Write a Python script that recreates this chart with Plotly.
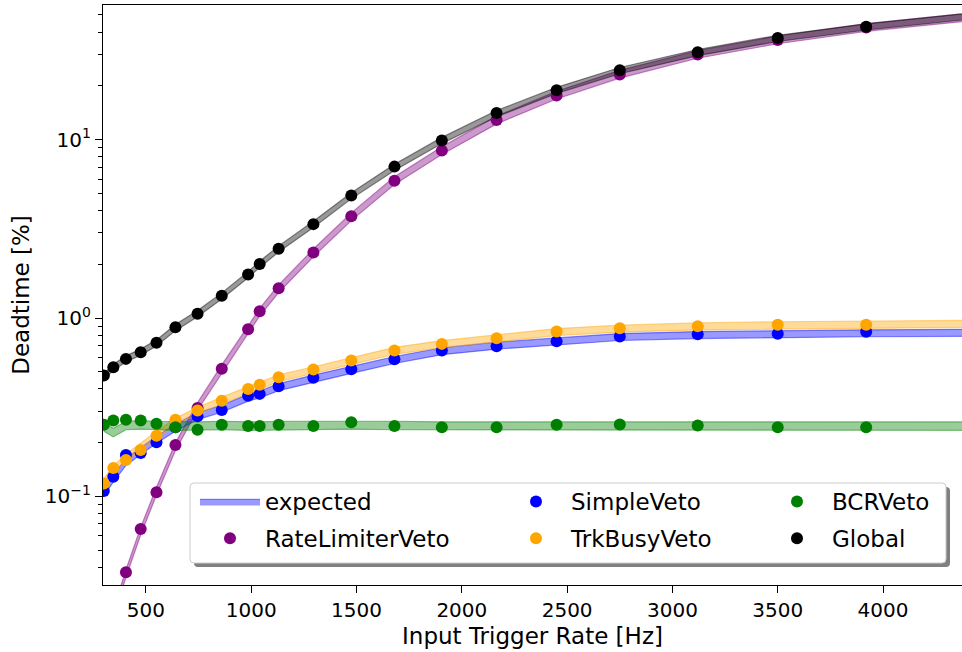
import plotly.graph_objects as go

# ---------------- data ----------------
rate_hz = [300, 345, 405, 475, 550, 640, 745, 860, 985, 1040, 1130, 1295,
           1475, 1680, 1905, 2165, 2450, 2750, 3120, 3500, 3920]

rate_limiter = [0.012, 0.021, 0.0375, 0.0656, 0.1053, 0.194, 0.313, 0.519, 0.865,
                1.09, 1.47, 2.33, 3.72, 5.89, 8.68, 12.9, 17.7, 23.2, 30.0, 36.2, 42.5]
simple_veto = [0.107, 0.129, 0.1707, 0.175, 0.201, 0.244, 0.281, 0.305, 0.366,
               0.3755, 0.414, 0.462, 0.516, 0.587, 0.657, 0.695, 0.741, 0.787,
               0.811, 0.815, 0.837]
trkbusy_veto = [0.118, 0.144, 0.16, 0.182, 0.219, 0.2685, 0.303, 0.344, 0.40,
                0.422, 0.466, 0.514, 0.577, 0.657, 0.716, 0.77, 0.84, 0.877,
                0.90, 0.916, 0.916]
bcr_veto = [0.252, 0.266, 0.2685, 0.266, 0.255, 0.244, 0.2366, 0.252, 0.248,
            0.248, 0.252, 0.248, 0.26, 0.248, 0.244, 0.244, 0.252, 0.253,
            0.250, 0.244, 0.244]
global_dt = [0.476, 0.53, 0.59, 0.643, 0.726, 0.888, 1.056, 1.332, 1.754, 2.01,
             2.445, 3.36, 4.87, 7.06, 9.9, 14.1, 18.9, 24.5, 30.9, 37.2, 43.0]

# expected (model) curves
exp_hz = rate_hz + [4500]
exp_rate_limiter = [0.013, 0.022, 0.037, 0.064, 0.107, 0.19, 0.32, 0.52, 0.86, 1.08,
                    1.46, 2.32, 3.7, 5.9, 8.7, 12.9, 17.8, 23.3, 30.1, 36.3, 42.6, 50.0]
exp_simple = [0.105, 0.126, 0.156, 0.18, 0.208, 0.243, 0.282, 0.31, 0.358, 0.373,
              0.41, 0.458, 0.512, 0.582, 0.652, 0.70, 0.74, 0.783, 0.803, 0.815,
              0.822, 0.828]
exp_trkbusy = [0.12, 0.142, 0.165, 0.19, 0.222, 0.262, 0.302, 0.345, 0.395, 0.418,
               0.46, 0.51, 0.575, 0.655, 0.715, 0.77, 0.835, 0.872, 0.898, 0.912,
               0.92, 0.93]
exp_bcr = [0.245, 0.228, 0.25, 0.252, 0.25, 0.248, 0.248, 0.25, 0.248, 0.248, 0.25,
           0.25, 0.252, 0.25, 0.248, 0.248, 0.25, 0.25, 0.25, 0.248, 0.248, 0.248]
exp_global = [0.47, 0.53, 0.59, 0.645, 0.725, 0.885, 1.06, 1.33, 1.75, 2.0, 2.44,
              3.35, 4.85, 7.0, 9.9, 14.0, 18.9, 24.4, 30.8, 37.0, 42.9, 50.6]
band_rel = {"rate": 0.05, "simple": 0.045, "trk": 0.045, "bcr": 0.055, "global": 0.04}

y_tickvals = [0.1, 1, 10]
y_ticktext = ["10<sup>\u22121</sup>", "10<sup>0</sup>", "10<sup>1</sup>"]
y_minor = [0.04, 0.05, 0.06, 0.07, 0.08, 0.09, 0.2, 0.3, 0.4, 0.5, 0.6, 0.7, 0.8,
           0.9, 2, 3, 4, 5, 6, 7, 8, 9, 20, 30, 40, 50]
x_tickvals = [500, 1000, 1500, 2000, 2500, 3000, 3500, 4000]

FONT = "DejaVu Sans"

series = [
    ("rate", "RateLimiterVeto", rate_limiter, exp_rate_limiter, (128, 0, 128)),
    ("simple", "SimpleVeto", simple_veto, exp_simple, (0, 0, 255)),
    ("trk", "TrkBusyVeto", trkbusy_veto, exp_trkbusy, (255, 165, 0)),
    ("bcr", "BCRVeto", bcr_veto, exp_bcr, (0, 128, 0)),
    ("global", "Global", global_dt, exp_global, (0, 0, 0)),
]
legend_of = {"rate": "legend", "simple": "legend2", "trk": "legend2",
             "bcr": "legend3", "global": "legend3"}

fig = go.Figure()

# bands
for key, name, meas, exp, c in series:
    w = band_rel[key]
    hi = [v * (1 + w) for v in exp]
    lo = [v * (1 - w) for v in exp]
    rgba_f = f"rgba({c[0]},{c[1]},{c[2]},0.4)"
    rgba_l = f"rgba({c[0]},{c[1]},{c[2]},0.45)"
    fig.add_trace(go.Scatter(
        x=exp_hz + exp_hz[::-1], y=hi + lo[::-1],
        mode="lines", fill="toself", fillcolor=rgba_f,
        line=dict(color=rgba_l, width=1.2),
        name="expected", showlegend=(key == "simple"),
        legend="legend", legendgroup="exp", hoverinfo="skip"))

# measured points
for key, name, meas, exp, c in series:
    fig.add_trace(go.Scatter(
        x=rate_hz, y=meas, mode="markers", name=name,
        marker=dict(color=f"rgb({c[0]},{c[1]},{c[2]})", size=12),
        legend=legend_of[key], legendgroup=key))

# legend frame + shadow (paper coords)
X0, X1 = 103, 962
Y0, Y1 = 585, 5
def px(x):
    return (x - X0) / (X1 - X0)
def py(y):
    return (Y0 - y) / (Y0 - Y1)

def rrect(x0, y0, x1, y1, r=4):
    rx = r / (X1 - X0)
    ry = r / (Y0 - Y1)
    a, b, c2, d = px(x0), py(y0), px(x1), py(y1)  # b top, d bottom
    return (f"M {a+rx},{b} L {c2-rx},{b} Q {c2},{b} {c2},{b-ry} "
            f"L {c2},{d+ry} Q {c2},{d} {c2-rx},{d} L {a+rx},{d} "
            f"Q {a},{d} {a},{d+ry} L {a},{b-ry} Q {a},{b} {a+rx},{b} Z")

fig.add_shape(type="path", xref="paper", yref="paper", layer="above",
              path=rrect(194, 487, 950, 567), fillcolor="rgba(128,128,128,1)",
              line=dict(width=0))
fig.add_shape(type="path", xref="paper", yref="paper", layer="above",
              path=rrect(190, 483, 946, 563), fillcolor="white",
              line=dict(color="#cccccc", width=1))

leg_common = dict(orientation="v", bgcolor="rgba(0,0,0,0)", borderwidth=0,
                  font=dict(family=FONT, size=23, color="black"),
                  xanchor="left", yanchor="top", tracegroupgap=4,
                  itemwidth=60)

fig.update_layout(
    width=962, height=652,
    margin=dict(l=X0, r=0, t=Y1, b=652 - Y0),
    paper_bgcolor="white", plot_bgcolor="white",
    font=dict(family=FONT, size=20, color="black"),
    legend=dict(x=px(195), y=py(480), **leg_common),
    legend2=dict(x=px(501), y=py(480), **leg_common),
    legend3=dict(x=px(762), y=py(480), **leg_common),
    xaxis=dict(
        range=[296, 4375], tickvals=x_tickvals, ticks="outside", ticklen=7,
        tickwidth=1.2, tickcolor="black", showline=True, linecolor="black",
        linewidth=1.3, mirror=True, showgrid=False, zeroline=False,
        tickfont=dict(family=FONT, size=20),
        title=dict(text="Input Trigger Rate [Hz]", font=dict(family=FONT, size=23),
                   standoff=6)),
    yaxis=dict(
        type="log", range=[-1.497, 1.755], tickvals=y_tickvals, ticktext=y_ticktext,
        ticks="outside", ticklen=7, tickwidth=1.2, tickcolor="black",
        minor=dict(tickvals=y_minor, ticks="outside", ticklen=4, tickwidth=1,
                   tickcolor="black", showgrid=False),
        showline=True, linecolor="black", linewidth=1.3, mirror=False,
        showgrid=False, zeroline=False,
        tickfont=dict(family=FONT, size=20),
        title=dict(text="Deadtime [%]", font=dict(family=FONT, size=23), standoff=8)),
)

fig.write_html("out.html", config={"displayModeBar": False})

# remove the default page margin so the figure sits at the window's top-left corner
with open("out.html", "r", encoding="utf-8") as f:
    html = f.read()
html = html.replace("<head>", "<head><style>html,body{margin:0;padding:0;overflow:hidden;}</style>", 1)
with open("out.html", "w", encoding="utf-8") as f:
    f.write(html)
